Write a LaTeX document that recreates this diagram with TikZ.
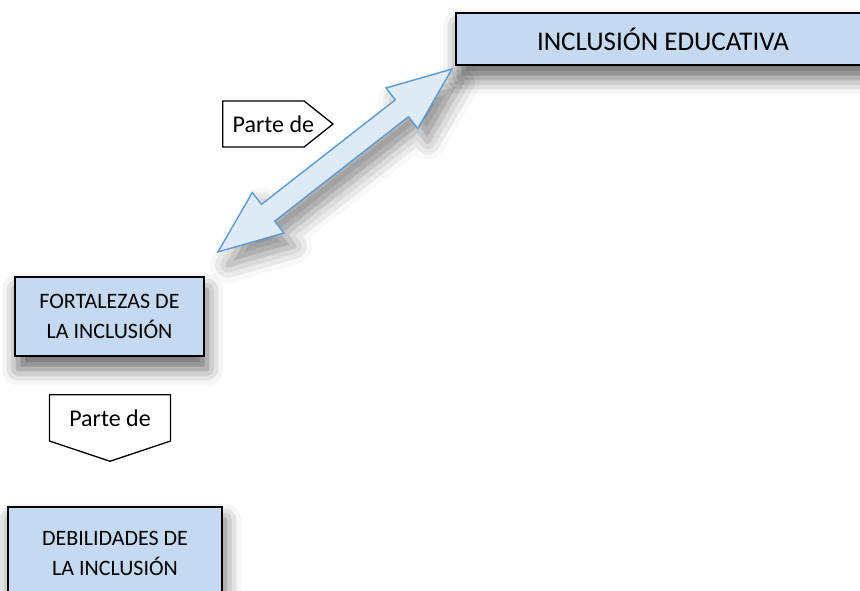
\documentclass[tikz,border=0pt]{standalone}
\usepackage{fontspec}
\setmainfont{Carlito}
\usetikzlibrary{positioning,calc,shapes.arrows,shapes.symbols,shadows.blur}

\definecolor{boxblue}{HTML}{C5D9F1}
\definecolor{arrowfill}{HTML}{DEEBF7}
\definecolor{arrowline}{HTML}{5B9BD5}

\tikzset{
    concept/.style={draw=black, line width=1.6pt, fill=boxblue, align=center,
        font=\fontsize{22}{30}\selectfont, inner sep=0pt,
        blur shadow={shadow xshift=3pt, shadow yshift=-13pt, shadow blur radius=16pt, shadow opacity=60}},
    tag/.style={draw=black, line width=1.3pt, fill=white, signal, inner sep=0pt,
        font=\fontsize{24}{26}\selectfont},
    link/.style={double arrow, draw=arrowline, line width=1.4pt, fill=arrowfill,
        inner xsep=0pt, inner ysep=10pt, double arrow head extend=15pt,
        double arrow tip angle=44,
        blur shadow={shadow xshift=10pt, shadow yshift=-13pt, shadow blur radius=18pt, shadow opacity=45}}
}

\begin{document}
\begin{tikzpicture}[x=1pt, y=-1pt]
    \useasboundingbox (0,0) rectangle (860,591);
    % conceptos
    \node[concept, minimum width=414pt, minimum height=52pt, font=\fontsize{27}{30}\selectfont] (incl) at (663,39) {INCLUSIÓN EDUCATIVA};
    \node[concept, minimum width=189pt, minimum height=79pt] (fort) at (109.5,316.5) {FORTALEZAS DE\\LA INCLUSIÓN};
    \node[concept, minimum width=214pt, minimum height=92pt] (debi) at (115,553) {DEBILIDADES DE\\LA INCLUSIÓN};
    % etiquetas
    \node[tag, signal to=east, signal pointer angle=77, minimum height=46pt, minimum width=110pt,
        anchor=west] (parte1) at (222,124) {\hspace*{10pt}Parte de\hspace*{-10pt}};
    \node[tag, signal to=south, signal pointer angle=143, minimum width=121pt, minimum height=60pt,
        anchor=north] (parte2) at (110,394) {Parte de};
    % flecha doble
    \coordinate (tipA) at (218,252);
    \coordinate (tipB) at (452,69);
    \node[link, rotate=38, minimum height=297pt] (both) at ($(tipA)!0.5!(tipB)$) {};
\end{tikzpicture}
\end{document}
